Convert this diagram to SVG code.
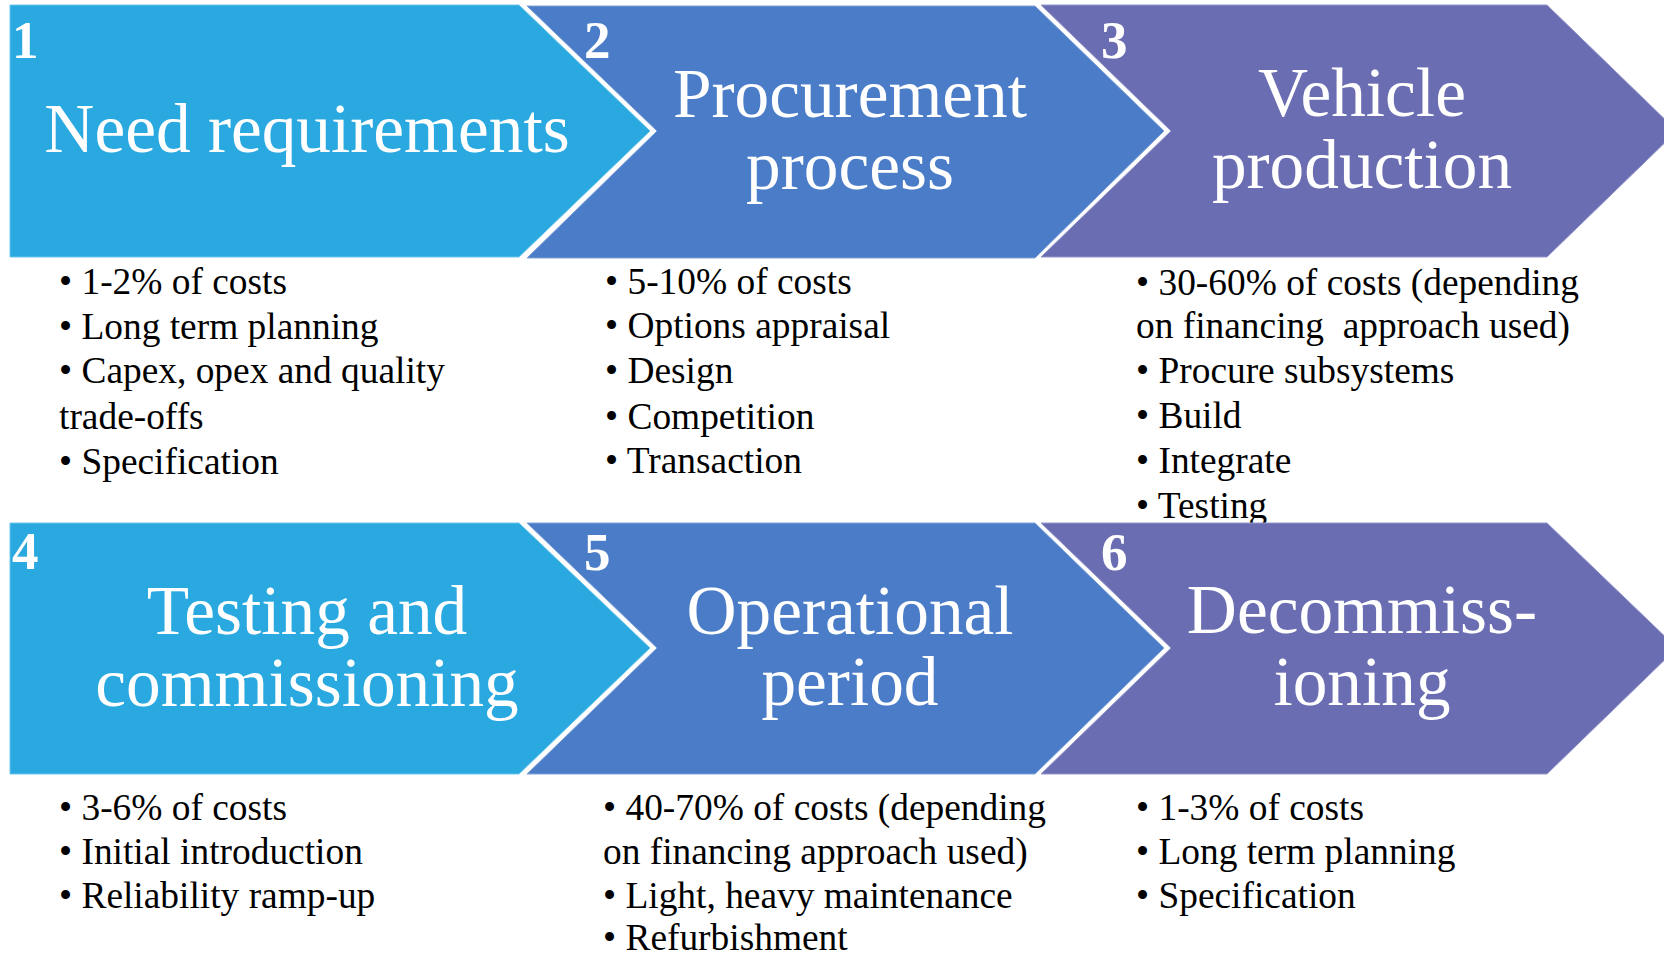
<svg xmlns="http://www.w3.org/2000/svg" width="1664" height="956" viewBox="0 0 1664 956">
<style>
.c1{fill:#29A9E0;stroke:#6CC6EC;stroke-width:1}
.c2{fill:#4A7CC8;stroke:#7FA2DA;stroke-width:1}
.c3{fill:#6A6DB2;stroke:#9597CB;stroke-width:1}
.t{font-family:"Liberation Serif","Times New Roman",serif;fill:#fff;font-size:69.3px;text-anchor:middle}
.n{font-family:"Liberation Serif","Times New Roman",serif;fill:#fff;font-size:53px;font-weight:bold}
.b{font-family:"Liberation Serif","Times New Roman",serif;fill:#000;font-size:37.4px}
</style>
<rect width="1664" height="956" fill="#fff"/>
<g id="connectors"/>
<!-- Row 1 -->
<g id="node1">
<path class="c1" d="M10,5 H519 L650,131 L519,257 H10 Z"/>
<text class="n" x="12" y="58">1</text>
<text class="t" x="307" y="152">Need requirements</text>
</g>
<g id="node2">
<path class="c2" d="M527,6 H1035 L1164,131 L1035,258 H527 L657,131 Z"/>
<text class="n" x="584" y="58">2</text>
<text class="t" x="850" y="117">Procurement</text>
<text class="t" x="850" y="189">process</text>
</g>
<g id="node3">
<path class="c3" d="M1041,5 H1547 L1677,131 L1547,257 H1041 L1171,131 Z"/>
<text class="n" x="1101" y="58">3</text>
<text class="t" x="1362" y="116">Vehicle</text>
<text class="t" x="1362" y="188">production</text>
</g>
<g id="notes1">
<text class="b" x="59" y="294">• 1-2% of costs</text>
<text class="b" x="59" y="339">• Long term planning</text>
<text class="b" x="59" y="383">• Capex, opex and quality</text>
<text class="b" x="59" y="429">trade-offs</text>
<text class="b" x="59" y="474">• Specification</text>
</g>
<g id="notes2">
<text class="b" x="605" y="294">• 5-10% of costs</text>
<text class="b" x="605" y="338">• Options appraisal</text>
<text class="b" x="605" y="383">• Design</text>
<text class="b" x="605" y="429">• Competition</text>
<text class="b" x="605" y="473">• Transaction</text>
</g>
<g id="notes3">
<text class="b" x="1136" y="295">• 30-60% of costs (depending</text>
<text class="b" x="1136" y="338" xml:space="preserve">on financing  approach used)</text>
<text class="b" x="1136" y="383">• Procure subsystems</text>
<text class="b" x="1136" y="428">• Build</text>
<text class="b" x="1136" y="473">• Integrate</text>
<text class="b" x="1136" y="518">• Testing</text>
</g>
<!-- Row 2 -->
<g id="node4">
<path class="c1" d="M10,523 H519 L650,648 L519,774 H10 Z"/>
<text class="n" x="12" y="569">4</text>
<text class="t" x="307" y="634">Testing and</text>
<text class="t" x="307" y="706">commissioning</text>
</g>
<g id="node5">
<path class="c2" d="M527,523 H1035 L1164,648 L1035,774 H527 L657,648 Z"/>
<text class="n" x="584" y="570">5</text>
<text class="t" x="850" y="634">Operational</text>
<text class="t" x="850" y="705">period</text>
</g>
<g id="node6">
<path class="c3" d="M1041,523 H1547 L1677,648 L1547,774 H1041 L1171,648 Z"/>
<text class="n" x="1101" y="570">6</text>
<text class="t" x="1362" y="633">Decommiss-</text>
<text class="t" x="1362" y="705">ioning</text>
</g>
<g id="notes4">
<text class="b" x="59" y="820">• 3-6% of costs</text>
<text class="b" x="59" y="864">• Initial introduction</text>
<text class="b" x="59" y="908">• Reliability ramp-up</text>
</g>
<g id="notes5">
<text class="b" x="603" y="820">• 40-70% of costs (depending</text>
<text class="b" x="603" y="864">on financing approach used)</text>
<text class="b" x="603" y="908">• Light, heavy maintenance</text>
<text class="b" x="603" y="950">• Refurbishment</text>
</g>
<g id="notes6">
<text class="b" x="1136" y="820">• 1-3% of costs</text>
<text class="b" x="1136" y="864">• Long term planning</text>
<text class="b" x="1136" y="908">• Specification</text>
</g>
</svg>
